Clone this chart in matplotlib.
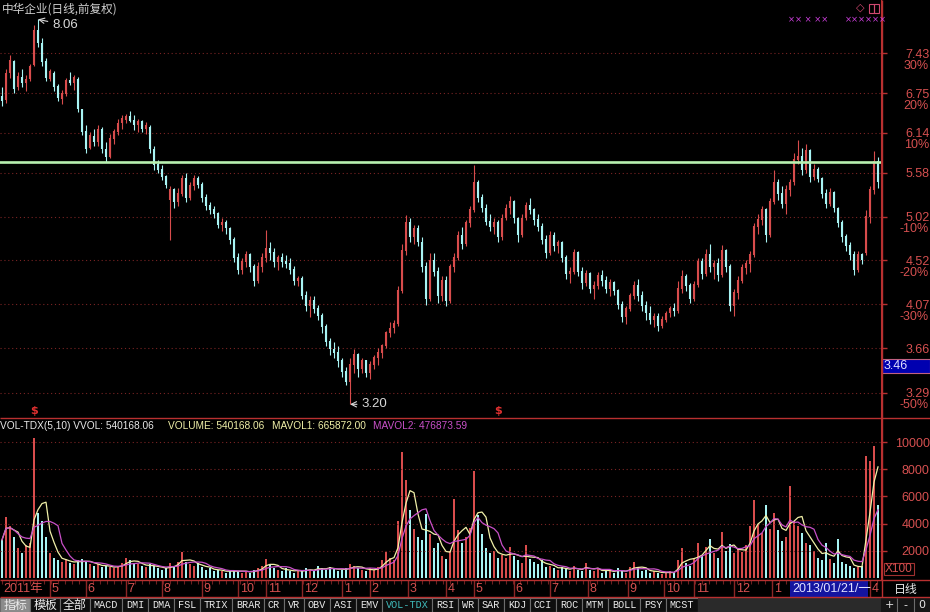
import matplotlib
matplotlib.use('Agg')
import matplotlib.pyplot as plt
from matplotlib import font_manager
from matplotlib.patches import Rectangle
from matplotlib.ticker import NullLocator, MultipleLocator
import numpy as np
import pandas as pd

# daily bars (one bar here ~ two trading days)
opens = [6.70, 6.65, 7.08, 7.28, 6.85, 7.00, 6.92, 6.98, 7.22, 7.85,
         7.60, 7.28, 6.98, 7.08, 6.85, 6.66, 6.74, 6.95, 6.92, 6.98,
         6.48, 6.15, 5.92, 6.08, 6.00, 6.18, 5.90, 5.80, 6.05, 6.15,
         6.28, 6.33, 6.38, 6.32, 6.25, 6.30, 6.20, 6.22, 5.90, 5.68,
         5.62, 5.52, 5.22, 5.35, 5.20, 5.30, 5.50, 5.25, 5.40, 5.50,
         5.42, 5.25, 5.15, 5.10, 5.05, 4.92, 4.95, 4.88, 4.75, 4.55,
         4.42, 4.50, 4.58, 4.45, 4.30, 4.45, 4.55, 4.65, 4.60, 4.50,
         4.55, 4.50, 4.48, 4.42, 4.30, 4.32, 4.15, 4.05, 4.10, 4.02,
         3.96, 3.85, 3.72, 3.65, 3.62, 3.55, 3.46, 3.38, 3.52, 3.60,
         3.48, 3.55, 3.45, 3.52, 3.58, 3.62, 3.68, 3.80, 3.84, 3.88,
         4.20, 4.62, 4.95, 4.78, 4.88, 4.72, 4.45, 4.12, 4.52, 4.40,
         4.15, 4.30, 4.10, 4.45, 4.55, 4.80, 4.70, 4.95, 5.10, 5.45,
         5.25, 5.12, 4.96, 4.90, 4.95, 4.78, 5.00, 5.12, 5.20, 5.00,
         4.80, 5.00, 5.15, 5.10, 4.98, 4.90, 4.75, 4.60, 4.80, 4.68,
         4.72, 4.55, 4.38, 4.40, 4.60, 4.40, 4.28, 4.38, 4.22, 4.25,
         4.36, 4.30, 4.22, 4.28, 4.20, 4.06, 3.95, 4.02, 4.15, 4.25,
         4.15, 4.05, 3.98, 3.92, 3.95, 3.86, 3.92, 3.98, 4.02, 4.00,
         4.22, 4.35, 4.25, 4.12, 4.26, 4.50, 4.38, 4.58, 4.45, 4.48,
         4.36, 4.62, 4.45, 4.05, 4.18, 4.30, 4.44, 4.48, 4.58, 4.90,
         4.98, 5.10, 4.80, 5.20, 5.45, 5.30, 5.18, 5.35, 5.45, 5.75,
         5.80, 5.62, 5.88, 5.52, 5.62, 5.50, 5.30, 5.18, 5.32, 5.12,
         4.95, 4.78, 4.68, 4.58, 4.42, 4.58, 4.60, 5.02, 5.35, 5.72]
highs = [6.85, 7.15, 7.40, 7.32, 7.10, 7.15, 7.05, 7.25, 7.95, 8.06,
         7.70, 7.35, 7.15, 7.12, 6.90, 6.80, 7.00, 7.10, 7.05, 7.02,
         6.50, 6.25, 6.15, 6.20, 6.25, 6.22, 6.00, 6.12, 6.20, 6.35,
         6.40, 6.42, 6.47, 6.40, 6.35, 6.33, 6.30, 6.25, 5.95, 5.75,
         5.68, 5.55, 5.40, 5.38, 5.38, 5.55, 5.58, 5.45, 5.55, 5.54,
         5.45, 5.30, 5.20, 5.15, 5.08, 5.00, 4.98, 4.90, 4.78, 4.60,
         4.55, 4.62, 4.60, 4.48, 4.50, 4.60, 4.86, 4.72, 4.66, 4.58,
         4.60, 4.58, 4.55, 4.46, 4.35, 4.35, 4.20, 4.15, 4.15, 4.06,
         3.98, 3.88, 3.75, 3.72, 3.68, 3.58, 3.50, 3.58, 3.65, 3.62,
         3.58, 3.56, 3.55, 3.60, 3.66, 3.70, 3.82, 3.90, 3.92, 4.25,
         4.70, 5.04, 5.00, 4.92, 4.92, 4.78, 4.50, 4.60, 4.60, 4.45,
         4.35, 4.35, 4.48, 4.60, 4.85, 4.90, 4.98, 5.15, 5.68, 5.48,
         5.30, 5.18, 5.05, 5.00, 4.98, 5.05, 5.18, 5.27, 5.22, 5.02,
         5.05, 5.20, 5.25, 5.12, 5.05, 4.95, 4.80, 4.85, 4.84, 4.75,
         4.74, 4.58, 4.45, 4.65, 4.62, 4.45, 4.42, 4.40, 4.30, 4.40,
         4.42, 4.35, 4.32, 4.30, 4.22, 4.10, 4.05, 4.18, 4.30, 4.32,
         4.20, 4.10, 4.05, 3.98, 3.98, 3.96, 4.00, 4.05, 4.08, 4.30,
         4.42, 4.38, 4.28, 4.30, 4.55, 4.55, 4.65, 4.70, 4.52, 4.55,
         4.69, 4.64, 4.48, 4.22, 4.35, 4.48, 4.52, 4.62, 4.95, 5.05,
         5.15, 5.12, 5.25, 5.62, 5.50, 5.40, 5.42, 5.50, 5.85, 6.04,
         5.92, 5.98, 5.90, 5.70, 5.66, 5.52, 5.36, 5.38, 5.34, 5.14,
         4.98, 4.82, 4.72, 4.62, 4.62, 4.60, 5.10, 5.40, 5.88, 5.80]
lows = [6.55, 6.60, 7.00, 6.75, 6.80, 6.85, 6.78, 6.95, 7.20, 7.55,
        7.20, 6.95, 6.95, 6.78, 6.62, 6.58, 6.70, 6.88, 6.80, 6.45,
        6.10, 5.85, 5.90, 5.95, 5.95, 5.85, 5.72, 5.78, 5.98, 6.10,
        6.20, 6.28, 6.30, 6.18, 6.15, 6.15, 6.12, 5.85, 5.62, 5.58,
        5.48, 5.38, 4.75, 5.12, 5.15, 5.28, 5.20, 5.22, 5.35, 5.38,
        5.20, 5.10, 5.05, 5.00, 4.88, 4.85, 4.82, 4.70, 4.50, 4.38,
        4.38, 4.45, 4.40, 4.25, 4.28, 4.40, 4.50, 4.52, 4.45, 4.42,
        4.45, 4.44, 4.38, 4.26, 4.25, 4.12, 4.00, 3.95, 3.98, 3.92,
        3.80, 3.68, 3.60, 3.58, 3.50, 3.42, 3.35, 3.20, 3.45, 3.42,
        3.45, 3.42, 3.40, 3.48, 3.52, 3.58, 3.66, 3.76, 3.80, 3.86,
        4.18, 4.58, 4.72, 4.70, 4.68, 4.40, 4.06, 4.10, 4.35, 4.08,
        4.10, 4.05, 4.08, 4.40, 4.52, 4.65, 4.68, 4.90, 5.08, 5.20,
        5.08, 4.92, 4.85, 4.82, 4.72, 4.75, 4.98, 5.05, 4.95, 4.72,
        4.78, 4.98, 5.05, 4.92, 4.85, 4.70, 4.55, 4.58, 4.62, 4.60,
        4.50, 4.32, 4.28, 4.38, 4.35, 4.22, 4.25, 4.18, 4.12, 4.22,
        4.25, 4.18, 4.15, 4.16, 4.02, 3.90, 3.88, 4.00, 4.12, 4.10,
        4.00, 3.92, 3.88, 3.85, 3.82, 3.84, 3.90, 3.95, 3.96, 3.98,
        4.18, 4.20, 4.08, 4.10, 4.24, 4.32, 4.35, 4.40, 4.32, 4.30,
        4.34, 4.40, 4.00, 3.96, 4.12, 4.28, 4.38, 4.40, 4.56, 4.82,
        4.92, 4.72, 4.78, 5.18, 5.22, 5.12, 5.05, 5.28, 5.42, 5.70,
        5.55, 5.58, 5.45, 5.48, 5.45, 5.25, 5.12, 5.15, 5.08, 4.90,
        4.72, 4.62, 4.52, 4.36, 4.40, 4.48, 4.58, 4.95, 5.30, 5.38]
closes = [6.62, 7.08, 7.30, 6.82, 7.02, 6.92, 6.98, 7.20, 7.85, 7.62,
          7.28, 7.00, 7.10, 6.85, 6.68, 6.74, 6.95, 6.92, 7.00, 6.50,
          6.15, 5.90, 6.10, 6.00, 6.18, 5.90, 5.80, 6.05, 6.15, 6.28,
          6.35, 6.38, 6.32, 6.25, 6.30, 6.20, 6.25, 5.90, 5.68, 5.62,
          5.52, 5.42, 5.35, 5.20, 5.30, 5.50, 5.25, 5.40, 5.50, 5.42,
          5.25, 5.15, 5.10, 5.05, 4.92, 4.95, 4.88, 4.75, 4.55, 4.42,
          4.50, 4.58, 4.45, 4.30, 4.45, 4.55, 4.65, 4.60, 4.50, 4.55,
          4.50, 4.48, 4.42, 4.30, 4.32, 4.15, 4.05, 4.10, 4.02, 3.96,
          3.85, 3.72, 3.65, 3.62, 3.55, 3.46, 3.38, 3.52, 3.60, 3.48,
          3.55, 3.45, 3.52, 3.58, 3.62, 3.68, 3.80, 3.84, 3.88, 4.20,
          4.62, 4.95, 4.78, 4.88, 4.72, 4.45, 4.12, 4.52, 4.40, 4.15,
          4.30, 4.10, 4.45, 4.55, 4.80, 4.70, 4.95, 5.10, 5.45, 5.25,
          5.12, 4.96, 4.90, 4.95, 4.78, 5.00, 5.12, 5.20, 5.00, 4.80,
          5.00, 5.15, 5.10, 4.98, 4.90, 4.75, 4.60, 4.80, 4.68, 4.72,
          4.55, 4.38, 4.40, 4.60, 4.40, 4.28, 4.38, 4.22, 4.25, 4.36,
          4.30, 4.22, 4.28, 4.20, 4.06, 3.95, 4.02, 4.15, 4.25, 4.15,
          4.05, 3.98, 3.92, 3.95, 3.86, 3.92, 3.98, 4.02, 4.00, 4.22,
          4.35, 4.25, 4.12, 4.26, 4.50, 4.38, 4.58, 4.45, 4.48, 4.36,
          4.62, 4.45, 4.05, 4.18, 4.30, 4.44, 4.48, 4.58, 4.90, 4.98,
          5.10, 4.80, 5.20, 5.45, 5.30, 5.18, 5.35, 5.45, 5.75, 5.80,
          5.62, 5.88, 5.52, 5.62, 5.50, 5.30, 5.18, 5.32, 5.12, 4.95,
          4.78, 4.68, 4.58, 4.42, 4.58, 4.52, 5.02, 5.35, 5.72, 5.45]
# volume in hands x100 (axis shows X100)
volumes = [2800, 4500, 3800, 3000, 2200, 1800, 2400, 2600, 10300, 4800,
           4200, 3000, 1800, 1500, 1300, 1200, 1400, 1100, 1000, 1300,
           1400, 1200, 1000, 900, 1000, 800, 900, 800, 700, 900,
           1100, 1500, 1300, 1100, 1000, 900, 800, 1000, 900, 700,
           600, 700, 1100, 900, 1200, 1900, 1200, 1000, 900, 1100,
           800, 600, 700, 500, 600, 500, 400, 500, 600, 500,
           400, 500, 400, 600, 700, 900, 1400, 1000, 700, 600,
           500, 700, 500, 400, 600, 500, 700, 600, 500, 900,
           700, 600, 800, 700, 500, 600, 700, 1000, 900, 700,
           600, 500, 700, 600, 800, 1300, 1900, 1500, 1300, 4200,
           9300, 7200, 5000, 3600, 3000, 2800, 4700, 3200, 2200, 2600,
           1600, 1400, 2000, 5800, 3500, 2600, 3000, 3700, 7900, 4600,
           3200, 2200, 1800, 2000, 1500, 1700, 1500, 2300, 1600, 1300,
           1100, 2400, 1400, 1200, 1000, 1300, 800, 900, 700, 600,
           800, 700, 500, 900, 600, 500, 1100, 600, 500, 700,
           400, 600, 500, 400, 700, 500, 400, 800, 1200, 700,
           500, 600, 400, 500, 400, 300, 400, 500, 400, 1300,
           2200, 1100, 900, 1500, 2600, 1700, 2300, 2900, 1800, 1500,
           3400, 2000, 2500, 1800, 2100, 1900, 2400, 3800, 5700, 4000,
           3300, 5400, 3600, 4800, 3500, 2700, 3000, 6800, 4200, 3800,
           3300, 2600, 2400, 2000, 1500, 1300, 2600, 1400, 1100, 2900,
           1200, 1000, 900, 700, 800, 900, 9000, 8600, 9700, 5400]

price_ticks = [7.43, 6.75, 6.14, 5.58, 5.02, 4.52, 4.07, 3.66, 3.29]
pct_labels = ['30%', '20%', '10%', '', '-10%', '-20%', '-30%', '', '-50%']
vol_ticks = [2000, 4000, 6000, 8000, 10000]
resistance = 5.73
month_idx = [0, 12, 21, 31, 40, 50, 59, 66, 75, 85, 92, 101.5, 111, 118,
             128, 137, 146.5, 156.5, 165.5, 173, 183, 192.5, 217]
month_labels = ['2011年', '5', '6', '7', '8', '9', '10', '11', '12', '1', '2', '3',
                '4', '5', '6', '7', '8', '9', '10', '11', '12', '1', '4']
signal_idx = [8, 124]
tab_names = ['指标', '模板', '全部', 'MACD', 'DMI', 'DMA', 'FSL', 'TRIX', 'BRAR',
             'CR', 'VR', 'OBV', 'ASI', 'EMV', 'VOL-TDX', 'RSI', 'WR', 'SAR',
             'KDJ', 'CCI', 'ROC', 'MTM', 'BOLL', 'PSY', 'MCST']

# colours of the TDX dark theme
UP = '#d84c4c'
DOWN = '#a8f4f4'
RED_AX = '#b83030'
RED_TXT = '#d65050'
GRID = '#7a2424'
MA5_C = '#f0f0a8'
MA10_C = '#c850c8'

names = {f.name for f in font_manager.fontManager.ttflist}
NARROW = 'Liberation Sans Narrow' in names
SANS = 'Liberation Sans Narrow' if NARROW else 'Liberation Sans'
CJK = 'Noto Sans CJK SC'


def fs(s):
    return s if NARROW else round(s * 0.86, 1)


W, H = 930, 612
fig = plt.figure(figsize=(W / 100, H / 100), dpi=100, facecolor='black')


def box(x0, y0, x1, y1):
    return [x0 / W, 1 - y1 / H, (x1 - x0) / W, (y1 - y0) / H]


o = np.array(opens)
h = np.array(highs)
l = np.array(lows)
c = np.array(closes)
v = np.array(volumes)
n = len(c)
idx = np.arange(n)
cols = np.where(c >= o, UP, DOWN)
xlim = (-0.5, (881 - 2) / 4)

# ---------------- price panel ----------------
axp = fig.add_axes(box(0, 0, 881, 417), facecolor='black')
axp.set_yscale('log')
axp.set_ylim(3.104, 8.444)
axp.set_xlim(*xlim)
axp.vlines(idx, l, h, colors=cols, lw=0.8)
axp.vlines(idx, np.minimum(o, c), np.maximum(o, c) * 1.002, colors=cols, lw=1.5)
axp.axhline(resistance, color='#b8f0b0', lw=1.9, zorder=5)

axp.yaxis.tick_right()
axp.set_yticks(price_ticks)
axp.set_yticklabels([f'{p:.2f}' for p in price_ticks])
axp.yaxis.set_minor_locator(NullLocator())
axp.tick_params(axis='y', which='major', color=RED_AX, labelcolor=RED_TXT,
                length=4, width=1, pad=31, labelsize=fs(10.5))
for lab in axp.get_yticklabels():
    lab.set_ha('right')
    lab.set_family(SANS)
axp.set_xticks([])
for sp in ['top', 'left', 'bottom']:
    axp.spines[sp].set_visible(False)
axp.spines['right'].set_color(RED_AX)
axp.grid(axis='y', color=GRID, ls=(0, (1, 2.5)), lw=0.8)

for p, t in zip(price_ticks, pct_labels):
    if t:
        axp.annotate(t, xy=(929 / W, p), xycoords=('figure fraction', 'data'),
                     xytext=(0, -9), textcoords='offset points', ha='right', va='center',
                     color=RED_TXT, fontsize=fs(10.5), family=SANS, annotation_clip=False)

ih = int(np.argmax(h))
il = int(np.argmin(l))
axp.annotate(f'{h[ih]:.2f}', xy=(ih, h[ih]), xytext=(10, -4), textcoords='offset points',
             color='#d8d8d8', fontsize=fs(11), family=SANS, va='center',
             arrowprops=dict(arrowstyle='->', color='#d8d8d8', lw=0.8, shrinkA=1, shrinkB=0))
axp.annotate(f'{l[il]:.2f}', xy=(il, l[il]), xytext=(8, 0), textcoords='offset points',
             color='#d8d8d8', fontsize=fs(11), family=SANS, va='center',
             arrowprops=dict(arrowstyle='->', color='#d8d8d8', lw=0.8, shrinkA=1, shrinkB=0))
for s in signal_idx:
    axp.annotate('$', xy=(s, 3.104), xytext=(0, 1), textcoords='offset points',
                 ha='center', va='bottom', color='#e03030', fontsize=8, fontweight='bold')

# ---------------- volume panel ----------------
axv = fig.add_axes(box(0, 418, 881, 580), facecolor='black')
axv.set_xlim(*xlim)
axv.set_ylim(-150, 11770)
axv.bar(idx, v, width=0.62, color=cols, linewidth=0)
vs = pd.Series(v, dtype=float)
# windows in bars (each bar ~ 2 days), so MA5/MA10 of the days look alike
axv.plot(idx, vs.rolling(4, min_periods=1).mean(), color=MA5_C, lw=0.9)
axv.plot(idx, vs.rolling(7, min_periods=1).mean(), color=MA10_C, lw=0.9)
axv.yaxis.tick_right()
axv.set_yticks(vol_ticks)
axv.set_yticklabels([str(t) for t in vol_ticks])
axv.tick_params(axis='y', color=RED_AX, labelcolor=RED_TXT, length=4, width=1,
                pad=31, labelsize=fs(10.5))
for lab in axv.get_yticklabels():
    lab.set_ha('right')
    lab.set_family(SANS)
axv.set_xticks([])
for sp in ['top', 'left', 'bottom']:
    axv.spines[sp].set_visible(False)
axv.spines['right'].set_color(RED_AX)
axv.grid(axis='y', color=GRID, ls=(0, (1, 2.5)), lw=0.8)

# ---------------- month strip ----------------
axx = fig.add_axes(box(0, 580, 881, 597), facecolor='black')
axx.set_xlim(*xlim)
axx.set_ylim(0, 1)
axx.vlines(month_idx[1:], 0, 1, color='#8c2626', lw=1)
for m, t in zip(month_idx, month_labels):
    axx.text(m + 0.45, 0.45, t, color=RED_TXT, fontsize=fs(10.5), va='center',
             family=[SANS, CJK])
axx.xaxis.set_major_locator(MultipleLocator(1.75))
axx.xaxis.tick_top()
axx.tick_params(axis='x', direction='in', length=3, color='#6c2020', labeltop=False)
axx.set_yticks([])
for sp in axx.spines.values():
    sp.set_visible(False)

# ---------------- overlay chrome (pixel coordinates) ----------------
axo = fig.add_axes([0, 0, 1, 1])
axo.set_xlim(0, W)
axo.set_ylim(H, 0)
axo.axis('off')
axo.patch.set_alpha(0)
axo.set_zorder(10)

axo.hlines([417.5, 580, 597], 0, W, color=RED_AX, lw=1)
axo.vlines(881.5, 0, 597, color=RED_AX, lw=1)

axo.text(2, 9, '中华企业(日线,前复权)', color='#d0d0d0', fontsize=8.4, family=CJK, va='center')
HDR = 7.3
axo.text(0, 426, 'VOL-TDX(5,10) VVOL: 540168.06', color='#e8e8e8', fontsize=HDR,
         family=SANS, va='center')
axo.text(168, 426, 'VOLUME: 540168.06', color=MA5_C, fontsize=HDR, family=SANS, va='center')
axo.text(272, 426, 'MAVOL1: 665872.00', color=MA5_C, fontsize=HDR, family=SANS, va='center')
axo.text(373, 426, 'MAVOL2: 476873.59', color=MA10_C, fontsize=HDR, family=SANS, va='center')

# top-right icons and signal marks
axo.text(860, 8, '◇', color='#d04870', fontsize=8, ha='center', va='center', family='DejaVu Sans')
axo.add_patch(Rectangle((868.5, 3.5), 5, 9, fc='none', ec='#d04870', lw=0.8))
axo.add_patch(Rectangle((873.5, 3.5), 5, 9, fc='none', ec='#d04870', lw=0.8))
axo.text(788, 20, '×× × ××', color='#d040e0', fontsize=6, va='center', family='DejaVu Sans')
axo.text(845, 20, '××××××', color='#d040e0', fontsize=6, va='center', family='DejaVu Sans')

# cursor price box
axo.add_patch(Rectangle((882, 358.5), 48, 14.5, fc='#0000b0', ec='#c06080', lw=0.8))
axo.text(884, 366, '3.46', color='#e0e0ff', fontsize=fs(10.5), family=SANS, va='center')
# X100 box
axo.add_patch(Rectangle((883.5, 563), 30, 12, fc='black', ec='#a03030', lw=0.8))
axo.text(898.5, 569.5, 'X100', color=RED_TXT, fontsize=fs(10), family=SANS,
         ha='center', va='center')

# date box in the month strip
axo.add_patch(Rectangle((790, 581), 78, 16, fc='#1414a0', ec='none'))
axo.text(792, 589, '2013/01/21/一', color='#e0e0ff', fontsize=fs(10.5), family=[SANS, CJK],
         va='center')
axo.text(906, 589, '日线', color='#e8e8e8', fontsize=8.6, family=CJK, ha='center', va='center')

# bottom tab bar
x = 0
for k, name in enumerate(tab_names):
    cjk = k < 3
    w = 30 if cjk else 6 * len(name) + 8
    fc = '#8c8c8c' if k == 0 else '#0e0e0e'
    axo.add_patch(Rectangle((x, 598), w, 14, fc=fc, ec='#6c6c6c', lw=0.8))
    tc = '#40bcbc' if name == 'VOL-TDX' else '#ececec'
    if cjk:
        axo.text(x + w / 2, 605, name, ha='center', va='center', color=tc,
                 fontsize=8.6, family=CJK)
    else:
        axo.text(x + w / 2, 605.5, name, ha='center', va='center', color=tc,
                 fontsize=7.3, family='Liberation Mono')
    x += w
axo.add_patch(Rectangle((x, 598), 881 - x, 14, fc='#2a2a2a', ec='none'))
axo.add_patch(Rectangle((881, 598), 49, 14, fc='#161616', ec='none'))
axo.vlines([897, 914], 598, 612, color='#6c6c6c', lw=0.8)
for xb, t in zip([889, 905.5, 922], ['+', '-', '0']):
    axo.text(xb, 605, t, color='#e8e8e8', fontsize=8, ha='center', va='center',
             family='DejaVu Sans')

fig.savefig('out.png', dpi=100, facecolor='black')
